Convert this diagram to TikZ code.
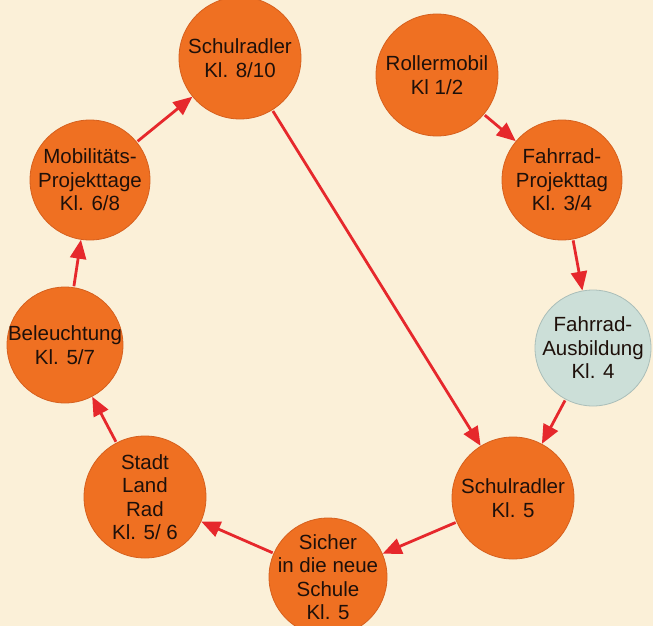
\documentclass[tikz,border=0pt]{standalone}
\usepackage{fontspec}
\setmainfont{Liberation Sans}
\usepackage{xcolor}
\usetikzlibrary{positioning,arrows.meta}

\definecolor{hintergrund}{RGB}{251,240,216}
\definecolor{kreisorange}{RGB}{239,112,34}
\definecolor{kreisrand}{RGB}{214,96,30}
\definecolor{kreisblau}{RGB}{204,223,216}
\definecolor{blaurand}{RGB}{170,190,185}
\definecolor{pfeilrot}{RGB}{230,40,44}
\definecolor{schrift}{RGB}{30,16,10}

\tikzset{
  station/.style={circle, fill=kreisorange, draw=kreisrand, line width=0.8pt,
    minimum size=122pt, inner sep=-14pt, align=center, text=schrift,
    font=\fontsize{20.5}{23.5}\selectfont},
  pfeil/.style={draw=pfeilrot, line width=2.8pt,
    -{Triangle[length=19pt,width=16pt]}, shorten >=0pt, shorten <=1pt}
}

\begin{document}
\begin{tikzpicture}[x=1pt,y=-1pt]
  % Hintergrund
  \fill[hintergrund] (0,0) rectangle (653,626);
  \useasboundingbox (0,0) rectangle (653,626);

  % Kreise
  \node[station] (sr810) at (240,58) {Schulradler\\Kl. 8/10};
  \node[station] (roller) at (437,75) {Rollermobil\\Kl 1/2};
  \node[station, minimum size=120pt] (fpt) at (562,180) {Fahrrad-\\Projekttag\\Kl. 3/4};
  \node[station, fill=kreisblau, draw=blaurand, minimum size=116pt] (fab) at (593,348) {Fahrrad-\\Ausbildung\\Kl. 4};
  \node[station] (sr5) at (513,498) {Schulradler\\Kl. 5};
  \node[station, minimum size=118pt] (sicher) at (328,577) {Sicher\\in die neue\\Schule\\Kl. 5};
  \node[station] (stadt) at (145,497) {Stadt\\Land\\Rad\\Kl. 5/ 6};
  \node[station, minimum size=116pt] (licht) at (65,345) {Beleuchtung\\Kl. 5/7};
  \node[station, minimum size=120pt] (mobil) at (90,180) {Mobilitäts-\\Projekttage\\Kl. 6/8};

  % Pfeile
  \draw[pfeil] (roller) -- (fpt);
  \draw[pfeil] (fpt) -- (fab);
  \draw[pfeil] (fab) -- (sr5);
  \draw[pfeil] (sr5) -- (sicher);
  \draw[pfeil] (sicher) -- (stadt);
  \draw[pfeil] (stadt) -- (licht);
  \draw[pfeil] (licht) -- (mobil);
  \draw[pfeil] (mobil) -- (sr810);
  \draw[pfeil] (sr810) -- (sr5);
\end{tikzpicture}
\end{document}
